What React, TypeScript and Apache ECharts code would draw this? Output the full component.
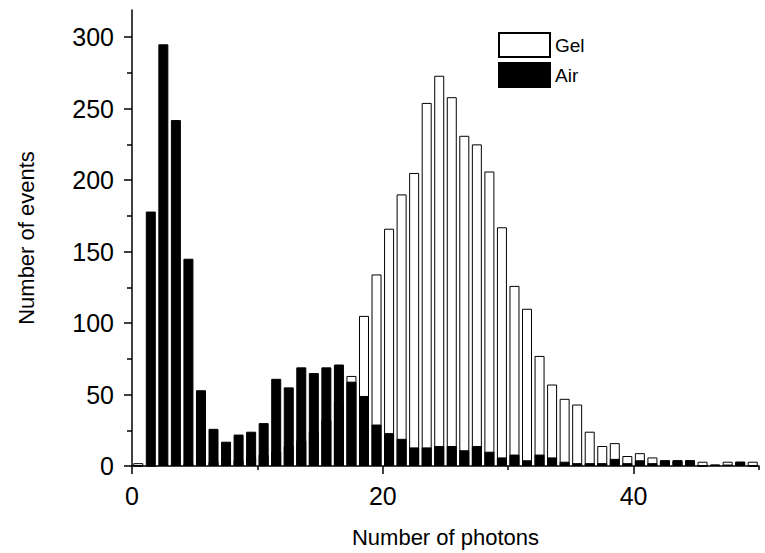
import React, { useEffect, useRef } from "react";
import * as echarts from "echarts";

// Histogram bins: bin i covers [i, i+1) photons
const gelCounts = [
  2, 0, 1, 1, 2, 2, 3, 3, 4, 6, 8, 10, 14, 18, 24, 32, 45, 63, 105, 134,
  166, 190, 205, 254, 273, 258, 231, 225, 206, 167, 126, 110, 77, 57, 47, 43, 24, 14, 16, 7,
  9, 6, 4, 4, 4, 3, 1, 3, 3, 3,
];
const airCounts = [
  0, 178, 295, 242, 145, 53, 26, 17, 22, 24, 30, 61, 55, 69, 65, 69, 71, 59, 49, 29,
  23, 19, 13, 13, 14, 14, 11, 14, 10, 6, 8, 4, 8, 6, 3, 2, 2, 2, 5, 2,
  4, 2, 4, 4, 4, 0, 1, 1, 3, 0,
];
const xMajorTicks = [0, 20, 40];
const xMinorTicks = [10, 30, 50];
const yMajorTicks = [0, 50, 100, 150, 200, 250, 300];
const yMinorTicks = [25, 75, 125, 175, 225, 275];

const FONT = "'Liberation Sans', Arial, sans-serif";

export default function App() {
  const ref = useRef<HTMLDivElement>(null);
  useEffect(() => {
    const chart = echarts.init(ref.current!, null, { renderer: "svg" });
    const line = { color: "#000", width: 1.5 };
    chart.setOption({
      animation: false,
      backgroundColor: "#fff",
      grid: { left: 132, right: 6, top: 10, bottom: 82, containLabel: false },
      legend: {
        orient: "vertical",
        left: 498,
        top: 32,
        padding: 0,
        itemWidth: 51,
        itemHeight: 24,
        itemGap: 4,
        icon: "rect",
        data: ["Gel", "Air"],
        textStyle: { fontSize: 19, lineHeight: 24, color: "#000", fontFamily: FONT },
      },
      xAxis: [
        {
          type: "value",
          min: 0,
          max: 50,
          interval: 10,
          position: "bottom",
          name: "Number of photons",
          nameLocation: "middle",
          nameGap: 60,
          nameTextStyle: { fontSize: 22, color: "#000", fontFamily: FONT },
          axisLine: { show: true, onZero: false, lineStyle: line },
          axisTick: { show: true, customValues: xMajorTicks, length: 8, lineStyle: line },
          axisLabel: { customValues: xMajorTicks, fontSize: 25, margin: 17, color: "#000", fontFamily: FONT },
          splitLine: { show: false },
        },
        {
          type: "value",
          min: 0,
          max: 50,
          interval: 10,
          position: "bottom",
          axisLine: { show: false, onZero: false },
          axisTick: { show: true, customValues: xMinorTicks, length: 4, lineStyle: line },
          axisLabel: { show: false },
          splitLine: { show: false },
        },
      ],
      yAxis: [
        {
          type: "value",
          min: 0,
          max: 319,
          interval: 50,
          position: "left",
          name: "Number of events",
          nameLocation: "middle",
          nameGap: 95,
          nameTextStyle: { fontSize: 22, color: "#000", fontFamily: FONT },
          axisLine: { show: true, onZero: false, lineStyle: line },
          axisTick: { show: true, customValues: yMajorTicks, length: 8, lineStyle: line },
          axisLabel: { customValues: yMajorTicks, fontSize: 25, margin: 18, color: "#000", fontFamily: FONT },
          splitLine: { show: false },
        },
        {
          type: "value",
          min: 0,
          max: 319,
          interval: 50,
          position: "left",
          axisLine: { show: false, onZero: false },
          axisTick: { show: true, customValues: yMinorTicks, length: 5, lineStyle: line },
          axisLabel: { show: false },
          splitLine: { show: false },
        },
      ],
      series: [
        {
          type: "bar",
          name: "Gel",
          xAxisIndex: 0,
          yAxisIndex: 0,
          barWidth: 10,
          data: gelCounts.map((v, i) => [i + 0.5, v]),
          itemStyle: { color: "#fff", borderColor: "#000", borderWidth: 1 },
        },
        {
          type: "bar",
          name: "Air",
          xAxisIndex: 1,
          yAxisIndex: 0,
          barWidth: 10,
          data: airCounts.map((v, i) => [i + 0.5, v]),
          itemStyle: { color: "#000", borderColor: "#000", borderWidth: 1 },
        },
      ],
    });
    return () => chart.dispose();
  }, []);
  return (
    <div
      ref={ref}
      style={{ position: "fixed", left: 0, top: 0, width: 765, height: 553 }}
    />
  );
}
